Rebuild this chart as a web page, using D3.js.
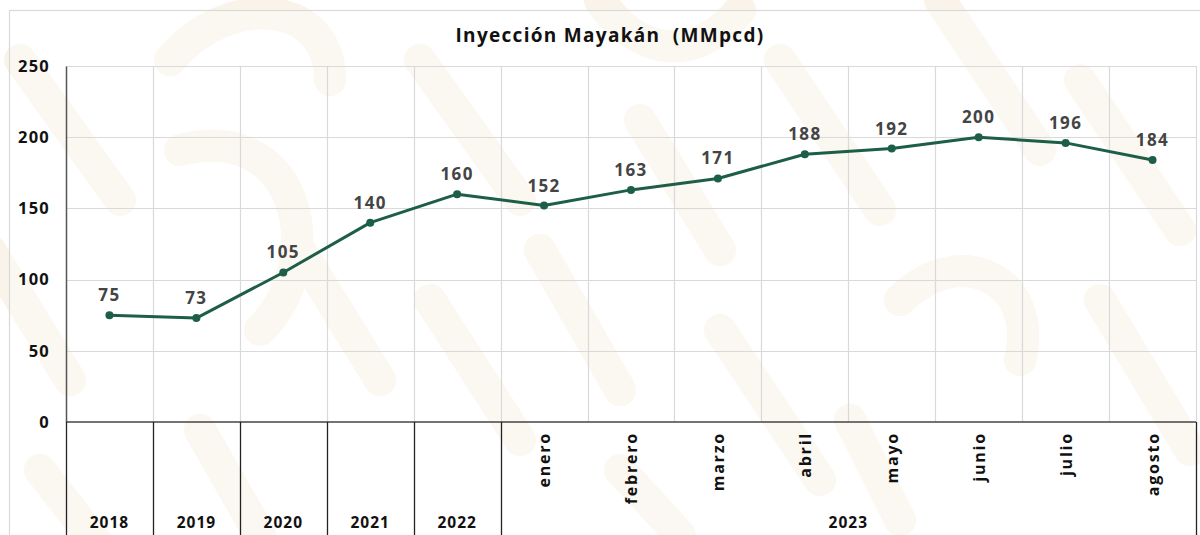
<!DOCTYPE html>
<html><head><meta charset="utf-8">
<script src="https://cdn.jsdelivr.net/npm/d3@7/dist/d3.min.js"></script>
<style>body{margin:0;background:#fff}text{font-family:"Open Sans",sans-serif}</style>
</head><body><svg id="c" width="1200" height="535"></svg>
<script>
const categories = ["2018","2019","2020","2021","2022","enero","febrero","marzo","abril","mayo","junio","julio","agosto"];
const values = [75,73,105,140,160,152,163,171,188,192,200,196,184];
const yTicks = [0,50,100,150,200,250];
const yearGroups = [
  {label:"2018", from:"2018", to:"2018"},
  {label:"2019", from:"2019", to:"2019"},
  {label:"2020", from:"2020", to:"2020"},
  {label:"2021", from:"2021", to:"2021"},
  {label:"2022", from:"2022", to:"2022"},
  {label:"2023", from:"enero", to:"agosto"}
];
const monthLabels = ["enero","febrero","marzo","abril","mayo","junio","julio","agosto"];
const title = "Inyección Mayakán  (MMpcd)";

const svg = d3.select("#c");
const W=1200,H=535;
const L=66,R=1196,T=66,B=422;

// decorative background pattern
const deco = svg.append("g").attr("fill","none").attr("stroke","#f7efe4").attr("stroke-linecap","round").attr("stroke-width",32).attr("opacity",0.75);
const decoPaths = [
  "M20,60 L120,200", "M-10,250 L70,380", "M40,470 L110,560",
  "M170,60 C230,-10 330,0 330,80", "M180,150 C300,120 330,260 260,330",
  "M300,250 L380,380", "M420,60 L520,200", "M430,300 L520,440", "M600,0 C640,60 700,60 740,10",
  "M540,250 L620,390", "M640,120 L720,250", "M720,330 L820,480", "M780,60 L880,210",
  "M900,300 C960,240 1040,280 1020,360", "M940,0 L1040,150", "M1080,80 L1180,230",
  "M1100,300 L1190,450", "M850,420 L900,520", "M200,430 L260,535", "M620,470 L680,535"
];
deco.selectAll("path").data(decoPaths).join("path").attr("d",d=>d);

// frame
svg.append("rect").attr("x",9.5).attr("y",10.5).attr("width",1200).attr("height",540)
  .attr("fill","#fff").attr("fill-opacity",0.35).attr("stroke","#d9d9d9").attr("stroke-width",1.2);

const x = d3.scaleBand().domain(categories).range([L,R]).padding(0);
const y = d3.scaleLinear().domain([0,250]).range([B,T]);

// gridlines
const grid = svg.append("g").attr("stroke","#d9d9d9").attr("stroke-width",1.2);
grid.selectAll(".h").data(yTicks.filter(t=>t>0)).join("line")
  .attr("x1",L).attr("x2",R).attr("y1",d=>Math.round(y(d))+0.5).attr("y2",d=>Math.round(y(d))+0.5);
const bounds = categories.map(c=>x(c)).slice(1).concat([R]);
grid.selectAll(".v").data(bounds).join("line")
  .attr("x1",d=>Math.round(d)+0.5).attr("x2",d=>Math.round(d)+0.5).attr("y1",T).attr("y2",B);

// y axis
const yAxis = svg.append("g").attr("transform",`translate(${L},0)`)
  .call(d3.axisLeft(y).tickValues(yTicks).tickSize(0).tickPadding(16));
yAxis.select(".domain").attr("stroke","#555").attr("stroke-width",1.5);
yAxis.selectAll("text").attr("font-size",16.5).attr("font-weight",700).attr("fill","#111")
  .attr("letter-spacing",1.2).attr("font-family","'Open Sans',sans-serif");

// x axis line (zero)
svg.append("line").attr("x1",L).attr("x2",R).attr("y1",B).attr("y2",B).attr("stroke","#444").attr("stroke-width",1.6);

// lower category separators
const seps = svg.append("g").attr("stroke","#222").attr("stroke-width",1.3);
const sepXs = [L].concat(yearGroups.map(g=>x(g.to)+x.bandwidth()));
seps.selectAll("line").data(sepXs).join("line")
  .attr("x1",d=>Math.round(d)+0.5).attr("x2",d=>Math.round(d)+0.5).attr("y1",B).attr("y2",H);

// month labels
svg.append("g").selectAll("text").data(monthLabels).join("text")
  .attr("transform",d=>`translate(${x(d)+x.bandwidth()/2+6},432) rotate(-90)`)
  .attr("text-anchor","end").attr("font-size",16).attr("font-weight",700).attr("fill","#111")
  .attr("letter-spacing",1.8)
  .text(d=>d);

// year labels
svg.append("g").selectAll("text").data(yearGroups).join("text")
  .attr("x",d=>(x(d.from)+x(d.to)+x.bandwidth())/2).attr("y",528)
  .attr("text-anchor","middle").attr("font-size",15.5).attr("font-weight",700).attr("fill","#111")
  .attr("letter-spacing",1)
  .text(d=>d.label);

// line
const line = d3.line().x((d,i)=>x(categories[i])+x.bandwidth()/2).y(d=>y(d));
svg.append("path").datum(values).attr("d",line).attr("fill","none")
  .attr("stroke","#1d5e48").attr("stroke-width",3).attr("stroke-linejoin","round");
svg.append("g").selectAll("circle").data(values).join("circle")
  .attr("cx",(d,i)=>x(categories[i])+x.bandwidth()/2).attr("cy",d=>y(d)).attr("r",4).attr("fill","#1d5e48");
svg.append("g").selectAll("text").data(values).join("text")
  .attr("x",(d,i)=>x(categories[i])+x.bandwidth()/2).attr("y",d=>y(d)-14)
  .attr("text-anchor","middle").attr("font-size",17).attr("font-weight",700).attr("fill","#444")
  .attr("letter-spacing",1.4)
  .text(d=>d);

// title
svg.append("text").attr("x",610).attr("y",42).attr("text-anchor","middle")
  .attr("font-size",19).attr("font-weight",700).attr("fill","#111")
  .attr("letter-spacing",1.3).style("white-space","pre").text(title);
</script></body></html>
